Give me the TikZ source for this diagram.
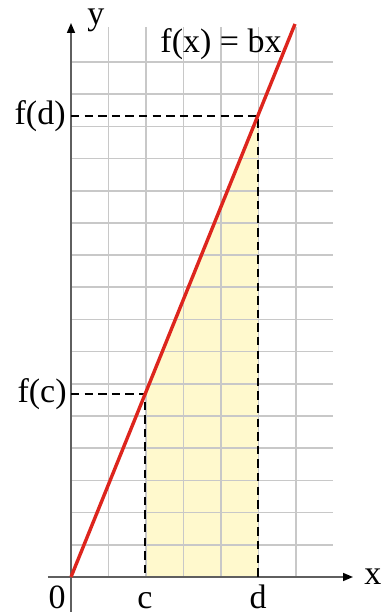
\documentclass[tikz,border=0pt]{standalone}
\usepackage{fontspec}
\setmainfont{Liberation Serif}
\usetikzlibrary{arrows.meta,positioning}
\definecolor{fnred}{RGB}{221,37,29}
\definecolor{areayellow}{RGB}{255,249,205}
\definecolor{gridgray}{RGB}{200,200,200}
\definecolor{axisgray}{RGB}{95,95,95}

\begin{document}
\begin{tikzpicture}[x=0.5pt,y=0.5pt,
  gridline/.style={gridgray,line width=0.8pt},
  axis/.style={axisgray,line width=0.8pt,-{Triangle[length=5pt,width=4pt,fill=black,color=black]}},
  guide/.style={black,line width=1.25pt,dash pattern=on 4.2pt off 2.6pt},
  graph/.style={fnred,line width=1.7pt},
  lbl/.style={font=\fontsize{17}{20}\selectfont,inner sep=0pt},
  ticklbl/.style={lbl,text height=11.7pt,text depth=0pt}
]
  \useasboundingbox (-71,-36) rectangle (310,577);
  % Points on the graph
  \coordinate (O) at (0,0);
  \coordinate (C) at (74,0);
  \coordinate (D) at (187,0);
  \coordinate (Pc) at (74,183);
  \coordinate (Pd) at (187,461);
  \coordinate (Yc) at (0,183);
  \coordinate (Yd) at (0,461);
  \coordinate (top) at (224,553);
  \coordinate (Xstart) at (-23,0);
  \coordinate (Xend) at (282,0);
  \coordinate (Ystart) at (0,-35);
  \coordinate (Yend) at (0,554);
  % Area under the line
  \fill[areayellow] (C) -- (Pc) -- (Pd) -- (D) -- cycle;
  % Grid
  \foreach \i in {1,...,6}
    \draw[gridline] (37.5*\i,0) -- (37.5*\i,550);
  \foreach \j in {1,...,16}
    \draw[gridline] (0,32.19*\j) -- (262,32.19*\j);
  % Axes
  \draw[axis] (Xstart) -- (Xend);
  \draw[axis] (Ystart) -- (Yend);
  \node[lbl,right=5.5pt of Xend] (xlbl) {x};
  \node[lbl,right=8pt of Yend,yshift=1.5pt] (ylbl) {y};
  % Guides
  \draw[guide] (Yc) -- (Pc) -- (C);
  \draw[guide] (Yd) -- (Pd) -- (D);
  % Line f(x) = bx
  \draw[graph] (O) -- (top);
  \node[lbl] (eq) at (150,533) {f(x) = bx};
  % Labels
  \node[lbl,left=2pt of Yc] (fc) {f(c)};
  \node[lbl,left=2.5pt of Yd] (fd) {f(d)};
  \node[ticklbl,below left=3.8pt and 2.5pt of O] (zero) {0};
  \node[ticklbl,below=3.8pt of C] (clbl) {c};
  \node[ticklbl,below=3.8pt of D] (dlbl) {d};
\end{tikzpicture}
\end{document}
